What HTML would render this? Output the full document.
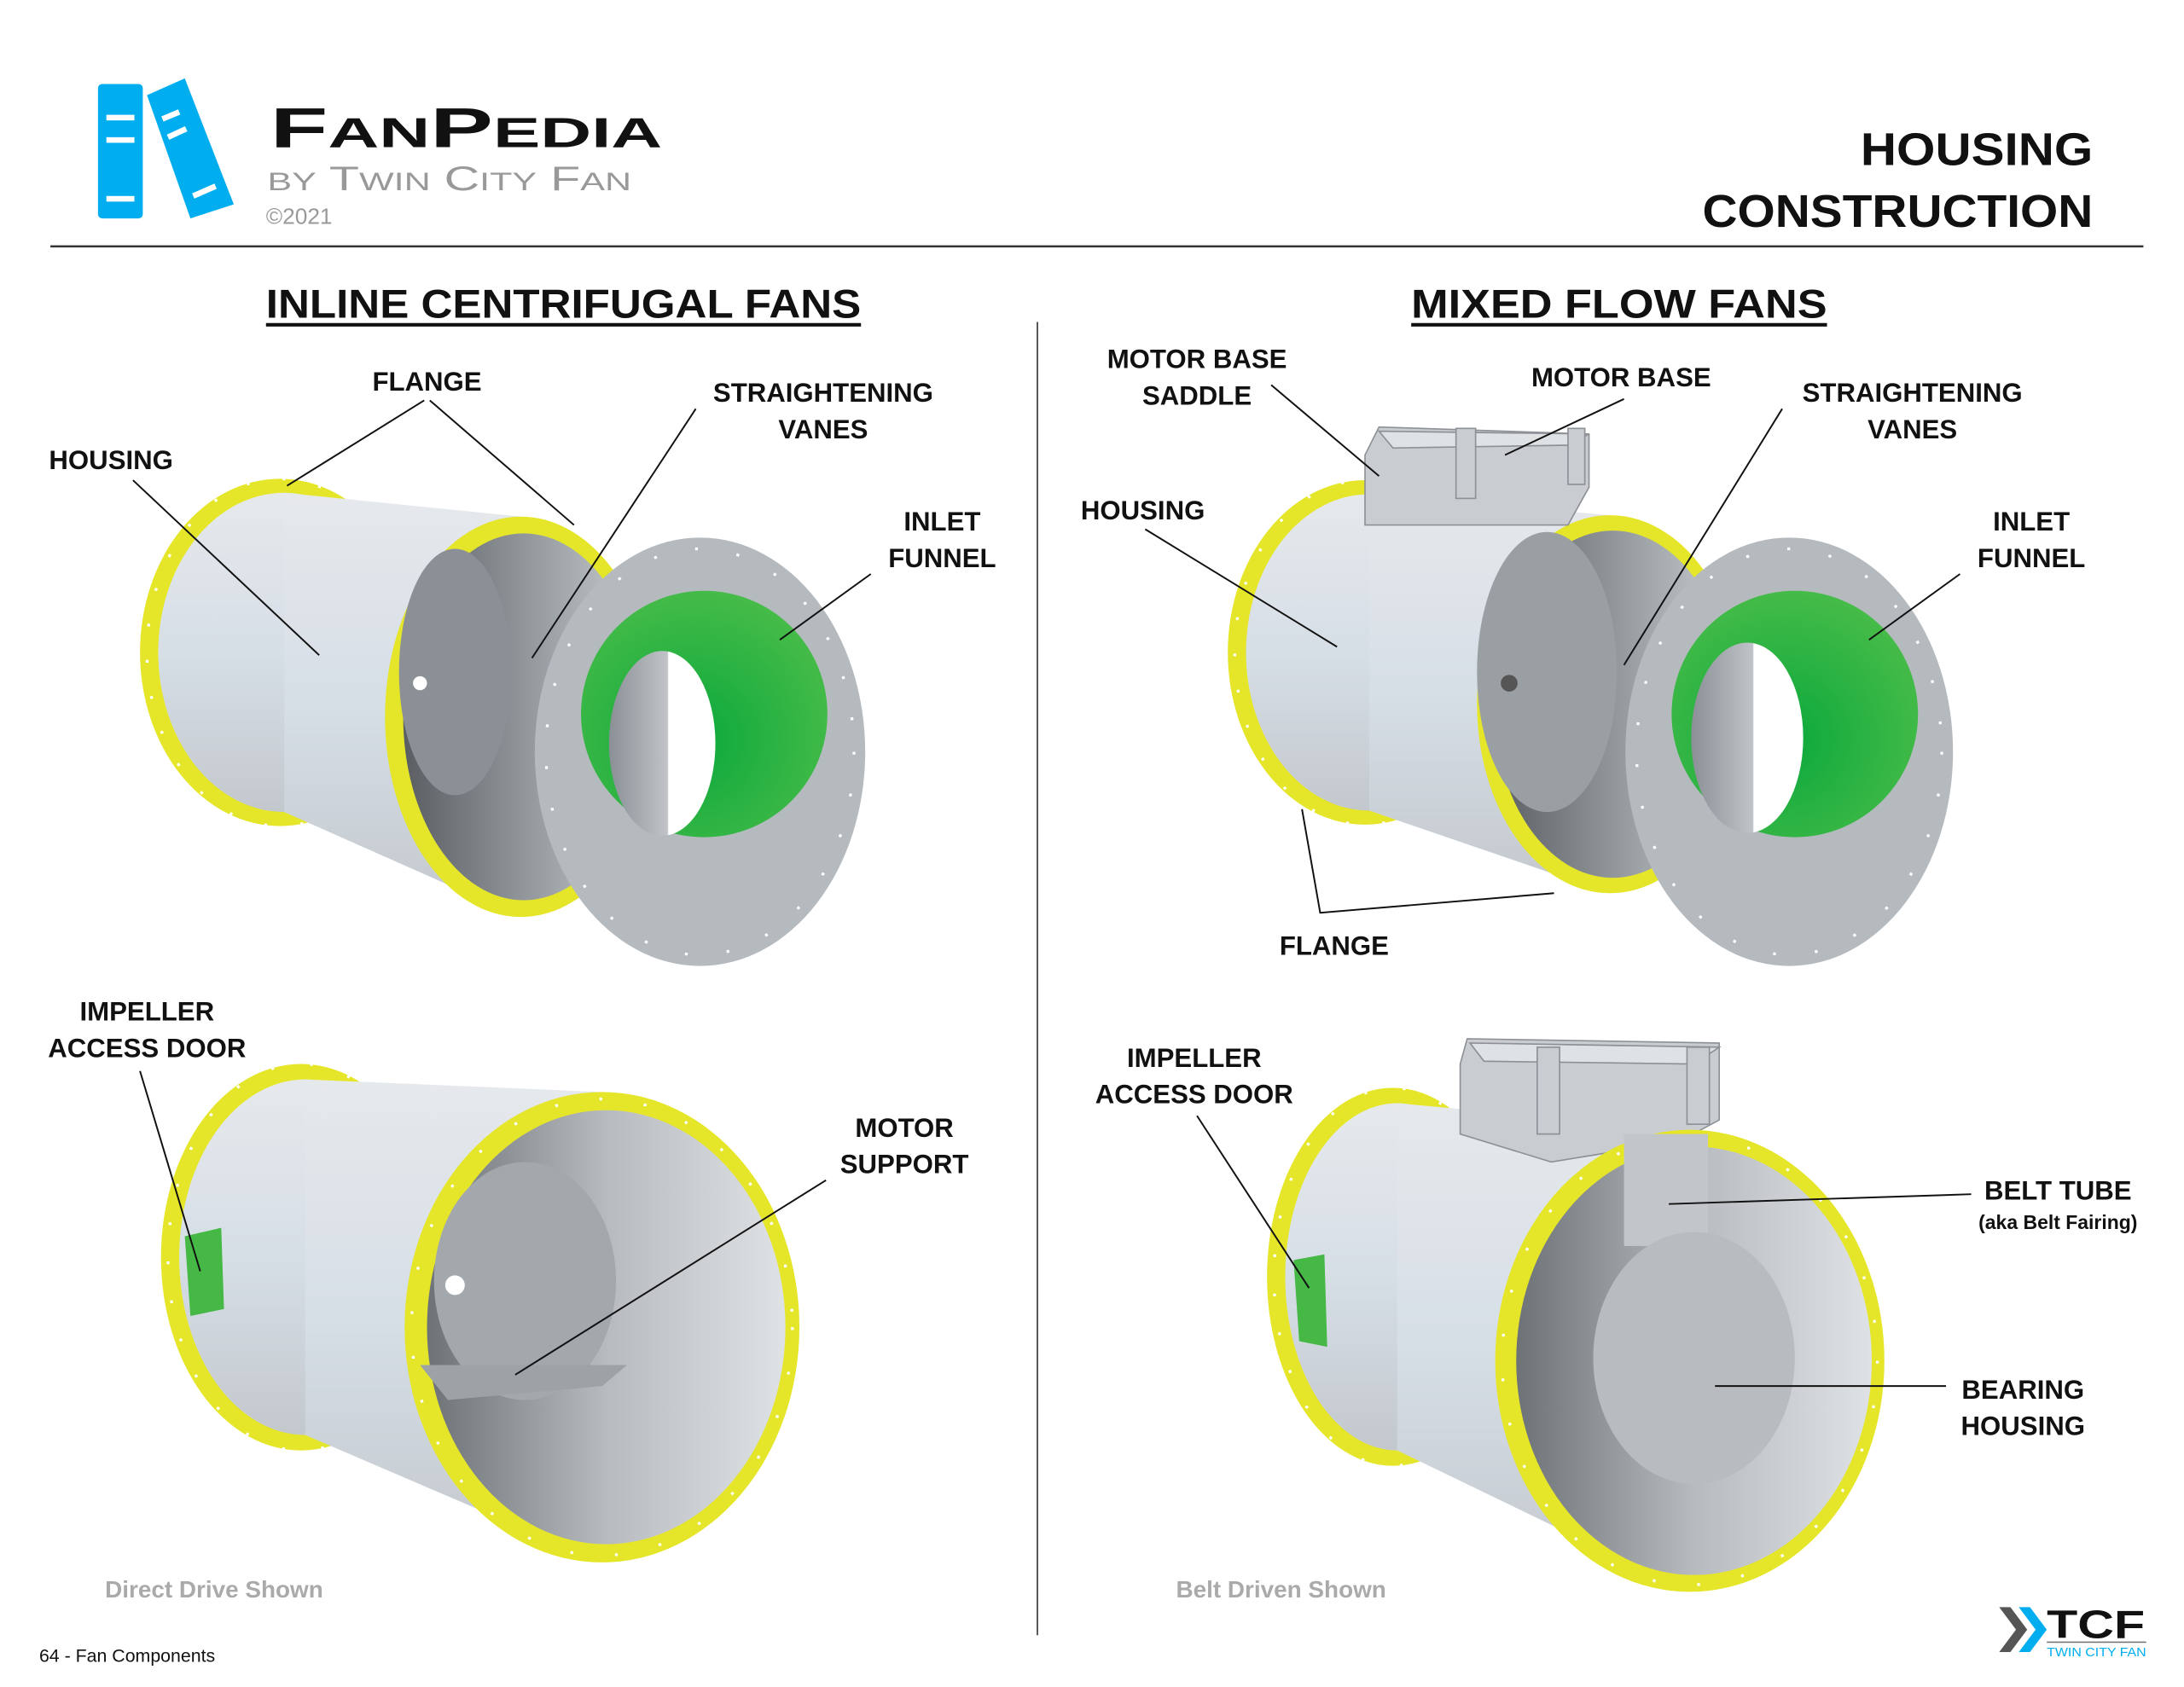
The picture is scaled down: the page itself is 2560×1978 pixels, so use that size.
<!DOCTYPE html>
<html><head><meta charset="utf-8"><style>
html,body{margin:0;padding:0;background:#fff}
svg{display:block}
.l{font-family:"Liberation Sans",sans-serif;font-weight:bold;font-size:19px;fill:#111}
.ln{stroke:#111;stroke-width:1.2;fill:none}
</style></head><body>
<svg width="2560" height="1978" viewBox="0 0 1560 1205" preserveAspectRatio="none" xmlns="http://www.w3.org/2000/svg">
<defs>
<linearGradient id="body" x1="0" y1="0" x2="0" y2="1"><stop offset="0" stop-color="#e6e9ec"/><stop offset=".5" stop-color="#d6dee6"/><stop offset="1" stop-color="#c3c8cd"/></linearGradient>
<linearGradient id="inside" x1="0" y1="0" x2="1" y2="0"><stop offset="0" stop-color="#5a5e63"/><stop offset=".6" stop-color="#9ca1a6"/><stop offset="1" stop-color="#c8ccd0"/></linearGradient>
<radialGradient id="green" cx=".45" cy=".6" r=".6"><stop offset="0" stop-color="#0aa83c"/><stop offset="1" stop-color="#45bb48"/></radialGradient>
<linearGradient id="hole" x1="0" y1="0" x2="1" y2="0"><stop offset="0" stop-color="#8a9096"/><stop offset=".55" stop-color="#c0c4c8"/><stop offset=".56" stop-color="#fff"/><stop offset="1" stop-color="#fff"/></linearGradient>
<linearGradient id="inside2" x1="0" y1="0" x2="1" y2="0"><stop offset="0" stop-color="#6d7277"/><stop offset=".5" stop-color="#b7bbbf"/><stop offset="1" stop-color="#dfe2e5"/></linearGradient>
</defs>

<!-- header -->
<g transform="translate(70,60)">
<rect x="0" y="0" width="32" height="96" rx="3" fill="#00aeef"/>
<rect x="6" y="22" width="20" height="4" fill="#fff"/><rect x="6" y="38" width="20" height="4" fill="#fff"/><rect x="6" y="80" width="20" height="4" fill="#fff"/>
<polygon points="35,8 62,-4 97,86 66,96" fill="#00aeef"/>
<line x1="46" y1="25" x2="58" y2="20" stroke="#fff" stroke-width="4"/><line x1="50" y1="38" x2="63" y2="32" stroke="#fff" stroke-width="4"/><line x1="68" y1="80" x2="84" y2="73" stroke="#fff" stroke-width="4"/>
</g>
<text x="193" y="105" font-family="Liberation Sans,sans-serif" font-weight="bold" font-size="40" fill="#111" textLength="280" lengthAdjust="spacingAndGlyphs">F<tspan font-size="30">AN</tspan>P<tspan font-size="30">EDIA</tspan></text>
<text x="191" y="136" font-family="Liberation Sans,sans-serif" font-size="24" fill="#999" textLength="260" lengthAdjust="spacingAndGlyphs"><tspan font-size="18">BY</tspan> T<tspan font-size="18">WIN</tspan> C<tspan font-size="18">ITY</tspan> F<tspan font-size="18">AN</tspan></text>
<text x="190" y="160" font-family="Liberation Sans,sans-serif" font-size="16" fill="#999">©2021</text>
<text x="1495" y="118" text-anchor="end" font-family="Liberation Sans,sans-serif" font-weight="bold" font-size="33" fill="#111" textLength="166" lengthAdjust="spacingAndGlyphs">HOUSING</text>
<text x="1495" y="162" text-anchor="end" font-family="Liberation Sans,sans-serif" font-weight="bold" font-size="33" fill="#111" textLength="279" lengthAdjust="spacingAndGlyphs">CONSTRUCTION</text>
<line x1="36" y1="176" x2="1531" y2="176" stroke="#333" stroke-width="1.5"/>
<line x1="741" y1="230" x2="741" y2="1168" stroke="#333" stroke-width="1"/>
<text x="190" y="227" font-family="Liberation Sans,sans-serif" font-weight="bold" font-size="29" fill="#111" textLength="425" lengthAdjust="spacingAndGlyphs">INLINE CENTRIFUGAL FANS</text>
<line x1="190" y1="232" x2="615" y2="232" stroke="#111" stroke-width="2.5"/>
<text x="1008" y="227" font-family="Liberation Sans,sans-serif" font-weight="bold" font-size="29" fill="#111" textLength="297" lengthAdjust="spacingAndGlyphs">MIXED FLOW FANS</text>
<line x1="1008" y1="232" x2="1305" y2="232" stroke="#111" stroke-width="2.5"/>

<!-- FAN 1 -->
<ellipse cx="200" cy="466" rx="100" ry="124" fill="#e5e62a"/>
<ellipse cx="200" cy="466" rx="95" ry="124" fill="none" stroke="#fff" stroke-width="2" stroke-dasharray="2 24"/>
<ellipse cx="203" cy="466" rx="90" ry="114" fill="url(#body)"/>
<polygon points="203,352 372,369 372,655 203,580" fill="url(#body)"/>
<ellipse cx="372" cy="512" rx="97" ry="143" fill="#e5e62a"/>
<ellipse cx="374" cy="512" rx="86" ry="131" fill="url(#inside)"/>
<ellipse cx="325" cy="480" rx="40" ry="88" fill="#8b9096"/>
<circle cx="300" cy="488" r="5" fill="#fff"/>
<ellipse cx="500" cy="537" rx="118" ry="153" fill="#b5babf"/>
<ellipse cx="500" cy="537" rx="110" ry="145" fill="none" stroke="#fff" stroke-width="2" stroke-dasharray="2 28"/>
<ellipse cx="503" cy="510" rx="88" ry="88" fill="url(#green)"/>
<ellipse cx="473" cy="531" rx="38" ry="66" fill="url(#hole)"/>
<text class="l" x="305" y="279" text-anchor="middle">FLANGE</text>
<path class="ln" d="M303,286 L205,347 M307,286 L410,375"/>
<text class="l" x="35" y="335">HOUSING</text>
<path class="ln" d="M95,343 L228,468"/>
<text class="l" x="588" y="287" text-anchor="middle">STRAIGHTENING</text>
<text class="l" x="588" y="313" text-anchor="middle">VANES</text>
<path class="ln" d="M497,292 L380,470"/>
<text class="l" x="673" y="379" text-anchor="middle">INLET</text>
<text class="l" x="673" y="405" text-anchor="middle">FUNNEL</text>
<path class="ln" d="M622,410 L557,457"/>

<!-- FAN 3 -->
<ellipse cx="975" cy="466" rx="98" ry="123" fill="#e5e62a"/>
<ellipse cx="975" cy="466" rx="93" ry="123" fill="none" stroke="#fff" stroke-width="2" stroke-dasharray="2 24"/>
<ellipse cx="978" cy="466" rx="88" ry="113" fill="url(#body)"/>
<polygon points="978,353 1150,368 1150,638 978,579" fill="url(#body)"/>
<ellipse cx="1150" cy="503" rx="95" ry="135" fill="#e5e62a"/>
<ellipse cx="1152" cy="503" rx="85" ry="124" fill="url(#inside)"/>
<ellipse cx="1105" cy="480" rx="50" ry="100" fill="#9a9fa4"/>
<circle cx="1078" cy="488" r="6" fill="#555"/>
<g fill="#c9cdd1" stroke="#8d9196" stroke-width="1">
<polygon points="975,325 985,305 1135,310 1135,348 1120,375 975,375"/>
<polygon points="995,320 1120,318 1135,310 985,308" fill="#dfe2e5"/>
<rect x="1040" y="306" width="14" height="50"/><rect x="1120" y="306" width="12" height="40"/>
</g>
<ellipse cx="1278" cy="537" rx="117" ry="153" fill="#b5babf"/>
<ellipse cx="1278" cy="537" rx="109" ry="145" fill="none" stroke="#fff" stroke-width="2" stroke-dasharray="2 28"/>
<ellipse cx="1282" cy="510" rx="88" ry="88" fill="url(#green)"/>
<ellipse cx="1248" cy="527" rx="40" ry="68" fill="url(#hole)"/>
<text class="l" x="855" y="263" text-anchor="middle">MOTOR BASE</text>
<text class="l" x="855" y="289" text-anchor="middle">SADDLE</text>
<path class="ln" d="M908,275 L985,340"/>
<text class="l" x="1158" y="276" text-anchor="middle">MOTOR BASE</text>
<path class="ln" d="M1160,285 L1075,325"/>
<text class="l" x="1366" y="287" text-anchor="middle">STRAIGHTENING</text>
<text class="l" x="1366" y="313" text-anchor="middle">VANES</text>
<path class="ln" d="M1273,292 L1160,475"/>
<text class="l" x="772" y="371">HOUSING</text>
<path class="ln" d="M818,378 L955,462"/>
<text class="l" x="1451" y="379" text-anchor="middle">INLET</text>
<text class="l" x="1451" y="405" text-anchor="middle">FUNNEL</text>
<path class="ln" d="M1400,410 L1335,457"/>
<text class="l" x="953" y="682" text-anchor="middle">FLANGE</text>
<path class="ln" d="M930,578 L943,652 L1110,638"/>

<!-- FAN 2 -->
<ellipse cx="215" cy="898" rx="100" ry="138" fill="#e5e62a"/>
<ellipse cx="215" cy="898" rx="95" ry="138" fill="none" stroke="#fff" stroke-width="2" stroke-dasharray="2 26"/>
<ellipse cx="218" cy="898" rx="90" ry="127" fill="url(#body)"/>
<polygon points="218,771 430,780 430,1116 218,1025" fill="url(#body)"/>
<polygon points="132,883 158,877 160,935 136,940" fill="#45b845"/>
<ellipse cx="430" cy="948" rx="141" ry="168" fill="#e5e62a"/>
<ellipse cx="430" cy="948" rx="136" ry="163" fill="none" stroke="#fff" stroke-width="2" stroke-dasharray="2 30"/>
<ellipse cx="433" cy="948" rx="128" ry="155" fill="url(#inside2)"/>
<ellipse cx="375" cy="915" rx="65" ry="85" fill="#a3a8ad"/>
<circle cx="325" cy="918" r="7" fill="#fff"/>
<polygon points="300,975 448,975 430,990 320,1000" fill="#9da2a7"/>
<text class="l" x="105" y="729" text-anchor="middle">IMPELLER</text>
<text class="l" x="105" y="755" text-anchor="middle">ACCESS DOOR</text>
<path class="ln" d="M100,765 L143,908"/>
<text class="l" x="646" y="812" text-anchor="middle">MOTOR</text>
<text class="l" x="646" y="838" text-anchor="middle">SUPPORT</text>
<path class="ln" d="M590,843 L368,982"/>
<text x="75" y="1141" font-family="Liberation Sans,sans-serif" font-weight="bold" font-size="17" fill="#aaa">Direct Drive Shown</text>
<text x="28" y="1187" font-family="Liberation Sans,sans-serif" font-size="13" fill="#111">64 - Fan Components</text>

<!-- FAN 4 -->
<ellipse cx="995" cy="912" rx="90" ry="135" fill="#e5e62a"/>
<ellipse cx="995" cy="912" rx="85" ry="135" fill="none" stroke="#fff" stroke-width="2" stroke-dasharray="2 26"/>
<ellipse cx="998" cy="912" rx="80" ry="124" fill="url(#body)"/>
<polygon points="998,788 1207,807 1207,1137 998,1036" fill="url(#body)"/>
<polygon points="924,900 946,896 948,962 928,958" fill="#45b845"/>
<g fill="#c9cdd1" stroke="#8d9196" stroke-width="1">
<polygon points="1043,760 1048,742 1228,745 1228,800 1200,815 1108,830 1043,810"/>
<polygon points="1060,758 1210,760 1228,748 1050,745" fill="#dfe2e5"/>
<rect x="1098" y="748" width="16" height="62"/><rect x="1205" y="748" width="16" height="55"/>
</g>
<ellipse cx="1207" cy="972" rx="139" ry="165" fill="#e5e62a"/>
<ellipse cx="1207" cy="972" rx="134" ry="160" fill="none" stroke="#fff" stroke-width="2" stroke-dasharray="2 30"/>
<ellipse cx="1210" cy="972" rx="127" ry="153" fill="url(#inside2)"/>
<rect x="1160" y="810" width="60" height="80" fill="#c2c6ca"/>
<ellipse cx="1210" cy="970" rx="72" ry="90" fill="#b8bcc0"/>
<text class="l" x="853" y="762" text-anchor="middle">IMPELLER</text>
<text class="l" x="853" y="788" text-anchor="middle">ACCESS DOOR</text>
<path class="ln" d="M855,797 L935,920"/>
<text class="l" x="1470" y="857" text-anchor="middle">BELT TUBE</text>
<text x="1470" y="878" text-anchor="middle" font-family="Liberation Sans,sans-serif" font-weight="bold" font-size="14" fill="#111">(aka Belt Fairing)</text>
<path class="ln" d="M1408,853 L1192,860"/>
<text class="l" x="1445" y="999" text-anchor="middle">BEARING</text>
<text class="l" x="1445" y="1025" text-anchor="middle">HOUSING</text>
<path class="ln" d="M1390,990 L1225,990"/>
<text x="840" y="1141" font-family="Liberation Sans,sans-serif" font-weight="bold" font-size="17" fill="#aaa">Belt Driven Shown</text>

<!-- TCF logo -->
<polygon points="1428,1148 1436,1148 1448,1164 1436,1180 1428,1180 1440,1164" fill="#555"/>
<polygon points="1442,1148 1450,1148 1462,1164 1450,1180 1442,1180 1454,1164" fill="#00aeef"/>
<text x="1462" y="1170" font-family="Liberation Sans,sans-serif" font-weight="bold" font-size="28" fill="#111" textLength="70" lengthAdjust="spacingAndGlyphs">TCF</text>
<line x1="1462" y1="1173" x2="1533" y2="1173" stroke="#777" stroke-width="1"/>
<text x="1462" y="1183" font-family="Liberation Sans,sans-serif" font-size="9" fill="#00aeef" textLength="71" lengthAdjust="spacingAndGlyphs">TWIN CITY FAN</text>
</svg>
</body></html>
